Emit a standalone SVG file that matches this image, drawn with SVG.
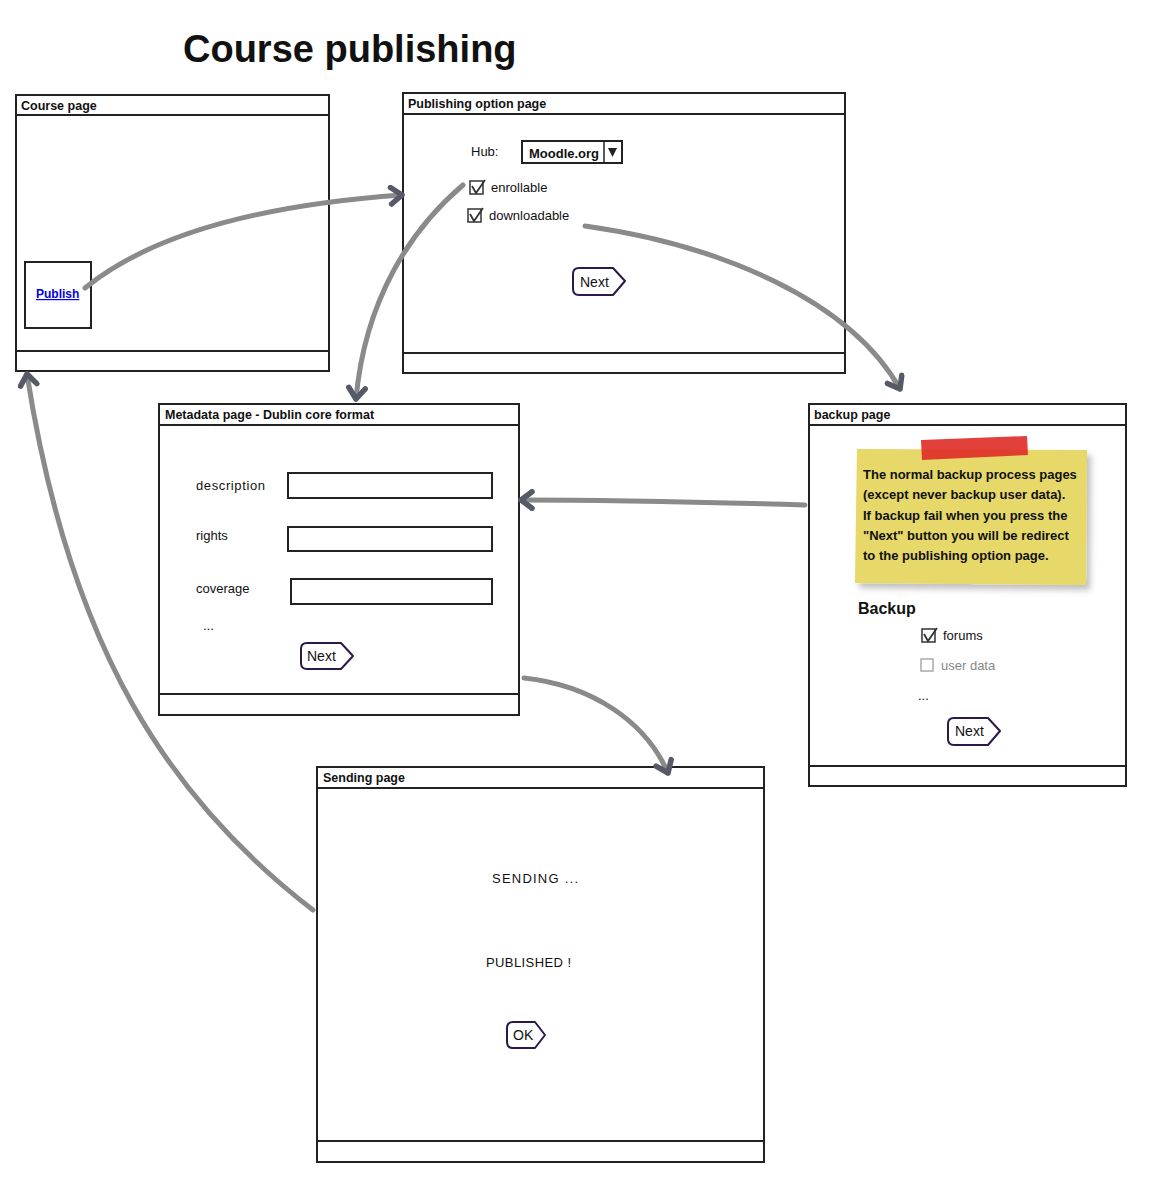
<svg xmlns="http://www.w3.org/2000/svg" width="1158" height="1194" viewBox="0 0 1158 1194">
<defs>
<style>
text{font-family:"Liberation Sans","DejaVu Sans",sans-serif;fill:#111;}
.win{fill:#fff;stroke:#222;stroke-width:2;}
.bar{fill:#fff;stroke:#222;stroke-width:2;}
.lbl{font-size:12.5px;font-weight:bold;}
.t{font-size:13px;}
.field{fill:#fff;stroke:#222;stroke-width:2;}
.btn{fill:#fff;stroke:#2a1a4a;stroke-width:2;stroke-linejoin:round;}
.btnt{font-size:14px;}
.cb{fill:#fff;stroke:#333;stroke-width:1.5;}
.chk{fill:none;stroke:#333;stroke-width:1.8;}
.conn{fill:none;stroke:#8a8a8a;stroke-width:5;stroke-linecap:round;}
.note{font-size:13px;font-weight:bold;}
</style>
<marker id="ah" viewBox="0 0 12 12" refX="9" refY="6" markerWidth="22" markerHeight="22" markerUnits="userSpaceOnUse" orient="auto">
<path d="M3,1.5 L9,6 L3,10.5" fill="none" stroke="#555a66" stroke-width="3" stroke-linecap="round" stroke-linejoin="round"/>
</marker>
<filter id="sh" x="-10%" y="-10%" width="130%" height="130%">
<feDropShadow dx="4" dy="5" stdDeviation="3" flood-color="#000" flood-opacity="0.25"/>
</filter>
</defs>
<rect width="1158" height="1194" fill="#fff"/>

<text x="183" y="62" font-size="38" font-weight="bold">Course publishing</text>

<g id="course-page">
<rect class="win" x="16" y="95" width="313" height="276"/>
<line x1="16" y1="115" x2="329" y2="115" stroke="#222" stroke-width="2"/>
<rect class="bar" x="16" y="351" width="313" height="20"/>
<text class="lbl" x="21" y="110">Course page</text>
<rect class="field" x="25" y="262" width="66" height="66"/>
<text x="36" y="298" font-size="12" font-weight="bold" style="fill:#0000ee" text-decoration="underline">Publish</text>
</g>

<g id="publishing-option-page">
<rect class="win" x="403" y="93" width="442" height="280"/>
<line x1="403" y1="114" x2="845" y2="114" stroke="#222" stroke-width="2"/>
<rect class="bar" x="403" y="353" width="442" height="20"/>
<text class="lbl" x="408" y="108">Publishing option page</text>
<text class="t" x="471" y="156">Hub:</text>
<rect class="field" x="522" y="141" width="100" height="22"/>
<line x1="604" y1="141" x2="604" y2="163" stroke="#222" stroke-width="1.5"/>
<path d="M608,148 L617,148 L612.5,157 Z" fill="#222"/>
<text class="t" x="529" y="158" font-weight="bold">Moodle.org</text>
<rect class="cb" x="470" y="181" width="13" height="13"/>
<path class="chk" d="M472,186 L476,193 L485,180"/>
<text class="t" x="491" y="192">enrollable</text>
<rect class="cb" x="468" y="209" width="13" height="13"/>
<path class="chk" d="M470,214 L474,221 L483,208"/>
<text class="t" x="489" y="220">downloadable</text>
<path class="btn" d="M579,268 L613,268 L625,281 L613,295 L579,295 Q573,295 573,289 L573,274 Q573,268 579,268 Z"/>
<text class="btnt" x="580" y="287">Next</text>
</g>

<g id="metadata-page">
<rect class="win" x="159" y="404" width="360" height="311"/>
<line x1="159" y1="425" x2="519" y2="425" stroke="#222" stroke-width="2"/>
<rect class="bar" x="159" y="694" width="360" height="21"/>
<text class="lbl" x="165" y="419">Metadata page - Dublin core format</text>
<text class="t" x="196" y="490" textLength="69">description</text>
<rect class="field" x="288" y="473" width="204" height="25"/>
<text class="t" x="196" y="540">rights</text>
<rect class="field" x="288" y="527" width="204" height="24"/>
<text class="t" x="196" y="593">coverage</text>
<rect class="field" x="291" y="579" width="201" height="25"/>
<text class="t" x="203" y="630">...</text>
<path class="btn" d="M307,643 L341,643 L353,656 L341,669 L307,669 Q301,669 301,663 L301,649 Q301,643 307,643 Z"/>
<text class="btnt" x="307" y="661">Next</text>
</g>

<g id="backup-page">
<rect class="win" x="809" y="404" width="317" height="382"/>
<line x1="809" y1="425" x2="1126" y2="425" stroke="#222" stroke-width="2"/>
<rect class="bar" x="809" y="766" width="317" height="20"/>
<text class="lbl" x="814" y="419">backup page</text>
<path d="M857,449 L1087,450 L1086,585 L855,583 Z" fill="#e6d869" filter="url(#sh)"/>
<path d="M921,440 L1027,436 L1028,455 L922,460 Z" fill="#e0302a" opacity="0.92"/>
<text class="note" x="863" y="479">The normal backup process pages</text>
<text class="note" x="863" y="499">(except never backup user data).</text>
<text class="note" x="863" y="520">If backup fail when you press the</text>
<text class="note" x="863" y="540">"Next" button you will be redirect</text>
<text class="note" x="863" y="560">to the publishing option page.</text>
<text x="858" y="614" font-size="16" font-weight="bold">Backup</text>
<rect class="cb" x="922" y="629" width="13" height="13"/>
<path class="chk" d="M924,634 L928,641 L937,628"/>
<text class="t" x="943" y="640">forums</text>
<rect x="921" y="659" width="12" height="12" fill="#fff" stroke="#aaa" stroke-width="1.5"/>
<text class="t" x="941" y="670" style="fill:#888">user data</text>
<text class="t" x="918" y="700">...</text>
<path class="btn" d="M954,718 L988,718 L1000,731 L988,745 L954,745 Q948,745 948,739 L948,724 Q948,718 954,718 Z"/>
<text class="btnt" x="955" y="736">Next</text>
</g>

<g id="sending-page">
<rect class="win" x="317" y="767" width="447" height="395"/>
<line x1="317" y1="788" x2="764" y2="788" stroke="#222" stroke-width="2"/>
<rect class="bar" x="317" y="1141" width="447" height="21"/>
<text class="lbl" x="323" y="782">Sending page</text>
<text class="t" x="492" y="883" textLength="86">SENDING ...</text>
<text class="t" x="486" y="967" textLength="85">PUBLISHED !</text>
<path class="btn" d="M513,1022 L535,1022 L545,1035 L535,1048 L513,1048 Q507,1048 507,1042 L507,1028 Q507,1022 513,1022 Z"/>
<text class="btnt" x="513" y="1040">OK</text>
</g>

<g id="connectors">
<path class="conn" marker-end="url(#ah)" d="M85,288 C150,235 260,205 402,195"/>
<path class="conn" marker-end="url(#ah)" d="M463,185 C410,230 365,300 356,399"/>
<path class="conn" marker-end="url(#ah)" d="M585,226 C720,245 850,300 900,389"/>
<path class="conn" marker-end="url(#ah)" d="M805,505 C700,502 600,500 521,500"/>
<path class="conn" marker-end="url(#ah)" d="M524,678 C590,685 645,720 668,773"/>
<path class="conn" marker-end="url(#ah)" d="M313,910 C170,800 70,650 27,374"/>
</g>
</svg>
